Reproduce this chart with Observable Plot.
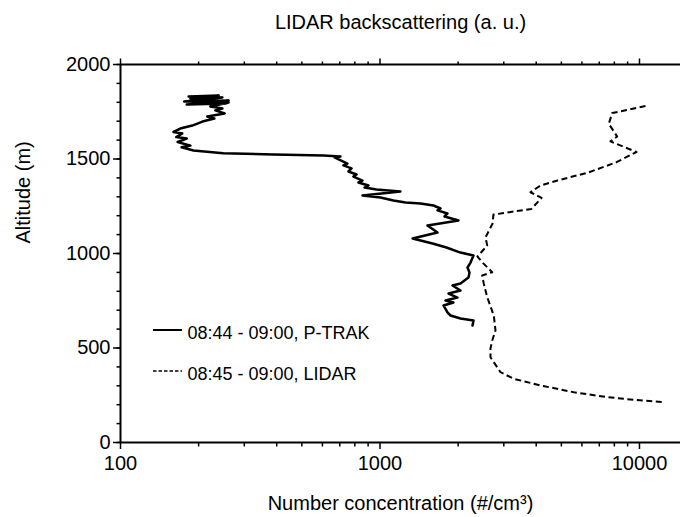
<!DOCTYPE html>
<html>
<head>
<meta charset="utf-8">
<script src="https://cdn.jsdelivr.net/npm/d3@7"></script>
<script src="https://cdn.jsdelivr.net/npm/@observablehq/plot@0.6"></script>
<style>
  html, body { margin: 0; padding: 0; background: #fff; }
  #chart svg { display: block; }
</style>
</head>
<body>
<div id="chart"></div>
<script>
// ---------- Data ----------
// P-TRAK number concentration (#/cm3) vs altitude (m), 08:44 - 09:00
const ptrakConc = [183, 239, 186, 247, 176, 261, 180, 256, 203, 261, 222, 247, 232, 252, 216, 230, 207, 189, 170, 160,
  173, 164, 180, 166, 186, 172, 191, 249, 389, 606, 704, 668, 749, 723, 777, 756, 812, 790, 856, 826,
  903, 872, 969, 1199, 856, 1004, 1127, 1254, 1433, 1608, 1711, 1666, 1820, 1773, 2007, 1524, 1666, 1335, 1594, 1804,
  2043, 2293, 2233, 2174, 2213, 2193, 2043, 1903, 2043, 1837, 1989, 1788, 1920, 1757, 1820, 1870, 2043, 2293, 2273];
const ptrakAlt = [1831, 1836, 1820, 1825, 1804, 1810, 1788, 1794, 1810, 1799, 1778, 1767, 1757, 1741, 1725, 1714, 1698, 1677, 1661, 1643,
  1635, 1616, 1608, 1590, 1571, 1562, 1545, 1531, 1524, 1519, 1513, 1508, 1476, 1466, 1450, 1434, 1418, 1407, 1386, 1376,
  1360, 1349, 1339, 1328, 1307, 1296, 1280, 1270, 1265, 1254, 1238, 1228, 1212, 1196, 1175, 1148, 1111, 1079, 1053, 1032,
  1005, 989, 952, 926, 899, 873, 841, 831, 804, 788, 767, 751, 741, 725, 688, 672, 656, 646, 619];

// LIDAR backscattering (a. u.) vs altitude (m), 08:45 - 09:00
const lidarSignal = [10546, 7850, 7615, 8204, 7731, 9736, 8155, 6362, 4831, 4155, 3802, 4193, 3835, 2737, 2713, 2551, 2589, 2375,
  2476, 2707, 2476, 2512, 2589, 2745, 2787, 2707, 2666, 2666, 2914, 3278, 4155, 5582, 7508, 9506, 12410];
const lidarAlt = [1780, 1743, 1686, 1619, 1593, 1537, 1483, 1429, 1386, 1360, 1324, 1294, 1236, 1206, 1157, 1086, 1042, 984,
  954, 901, 884, 840, 769, 672, 593, 540, 497, 451, 372, 337, 302, 266, 240, 226, 213];

// ---------- Ticks and texts ----------
const yMajorTicks = [0, 500, 1000, 1500, 2000];
const yMinorTicks = [0, 100, 200, 300, 400, 500, 600, 700, 800, 900, 1000, 1100, 1200, 1300, 1400, 1500, 1600, 1700, 1800, 1900, 2000];
const xMajorTicks = [100, 1000, 10000];
const xMinorTicks = [200, 300, 400, 500, 600, 700, 800, 900, 2000, 3000, 4000, 5000, 6000, 7000, 8000, 9000];
const topTitle = "LIDAR backscattering (a. u.)";
const xTitle = "Number concentration (#/cm³)";
const yTitle = "Altitude (m)";
const seriesNames = ["08:44 - 09:00, P-TRAK", "08:45 - 09:00, LIDAR"];

const ptrak = ptrakConc.map((c, i) => ({conc: c, alt: ptrakAlt[i]}));
const lidar = lidarSignal.map((c, i) => ({conc: c, alt: lidarAlt[i]}));

const font = "'Liberation Sans', Arial, Helvetica, sans-serif";

const chart = Plot.plot({
  width: 680,
  height: 517,
  marginTop: 64,
  marginRight: 0,
  marginBottom: 75,
  marginLeft: 120,
  style: {fontFamily: font, background: "#fff", color: "#000"},
  x: {type: "log", domain: [100, 14390]},
  y: {domain: [0, 2000]},
  marks: [
    Plot.axisY({ticks: yMinorTicks, tickSize: 3.5, tickFormat: () => "", label: null, strokeWidth: 1.5}),
    Plot.axisY({ticks: yMajorTicks, tickSize: 7, tickPadding: 3, fontSize: 20, tickFormat: d => String(d), label: null, strokeWidth: 1.5}),
    Plot.axisX({ticks: xMinorTicks, anchor: "bottom", tickSize: 4.5, tickFormat: () => "", label: null, strokeWidth: 1.5}),
    Plot.axisX({ticks: xMajorTicks, anchor: "bottom", tickSize: 7, tickPadding: 6, fontSize: 20, tickFormat: d => String(d), label: null, strokeWidth: 1.5}),
    Plot.axisX({ticks: xMinorTicks, anchor: "top", tickSize: 3.5, tickFormat: () => "", label: null, strokeWidth: 1.5}),
    Plot.axisX({ticks: xMajorTicks, anchor: "top", tickSize: 6.5, tickFormat: () => "", label: null, strokeWidth: 1.5}),
    Plot.ruleX([100], {stroke: "#000", strokeWidth: 2}),
    Plot.ruleY([0], {stroke: "#000", strokeWidth: 2}),
    Plot.ruleY([2000], {stroke: "#000", strokeWidth: 2}),
    Plot.line(lidar, {x: "conc", y: "alt", stroke: "#000", strokeWidth: 2, strokeDasharray: "6,3.5", strokeLinecap: "butt"}),
    Plot.line(ptrak, {x: "conc", y: "alt", stroke: "#000", strokeWidth: 2.5}),
    Plot.text([topTitle], {text: d => d, frameAnchor: "top", lineAnchor: "bottom", dy: -36, fontSize: 20}),
    Plot.text([xTitle], {text: d => d, frameAnchor: "bottom", lineAnchor: "bottom", dy: 67, fontSize: 20}),
    Plot.text([yTitle], {text: d => d, frameAnchor: "left", lineAnchor: "bottom", rotate: -90, dx: -91, dy: -10, fontSize: 20}),
    Plot.text([seriesNames[0]], {text: d => d, frameAnchor: "bottom-left", textAnchor: "start", lineAnchor: "bottom", dx: 67, dy: -104, fontSize: 18}),
    Plot.text([seriesNames[1]], {text: d => d, frameAnchor: "bottom-left", textAnchor: "start", lineAnchor: "bottom", dx: 67, dy: -63, fontSize: 18})
  ]
});

document.getElementById("chart").appendChild(chart);

// legend swatches
const svg = d3.select(chart);
const lg = svg.append("g").attr("stroke", "#000").attr("fill", "none");
lg.append("line").attr("x1", 153).attr("x2", 182).attr("y1", 330).attr("y2", 330).attr("stroke-width", 2);
lg.append("line").attr("x1", 153).attr("x2", 182).attr("y1", 371).attr("y2", 371).attr("stroke-width", 1.4).attr("stroke-dasharray", "3.5,2");
</script>
</body>
</html>
